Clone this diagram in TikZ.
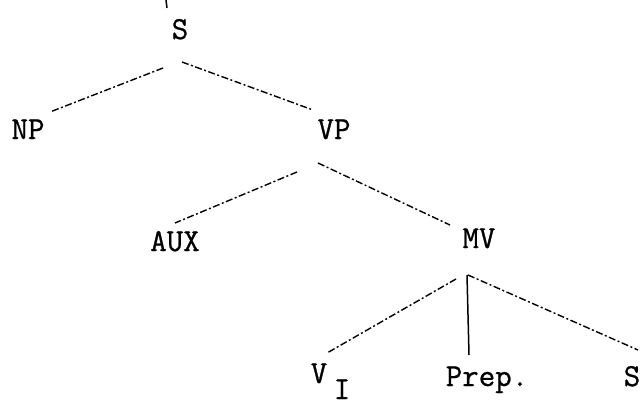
\documentclass[tikz,border=0pt]{standalone}
\usepackage{fontspec}
\newfontfamily\twfont{Latin Modern Mono}[FakeBold=0.8]
\begin{document}
\begin{tikzpicture}[x=1pt,y=-1pt,
  lbl/.style={inner sep=0pt,anchor=base,font=\twfont\fontsize{32}{32}\selectfont},
  branch/.style={line width=1.4pt,dash pattern=on 7pt off 2.5pt on 2pt off 2.5pt},
  solidbranch/.style={line width=1.5pt}]
\useasboundingbox (0,0) rectangle (644,409);
% labels
\node[lbl] (S)    at (180,39)  {S};
\node[lbl] (NP)   at (28,139)  {NP};
\node[lbl] (VP)   at (334,139) {VP};
\node[lbl] (AUX)  at (175,251) {AUX};
\node[lbl] (MV)   at (479,248) {MV};
\node[lbl] (V)    at (319,383) {V};
\node[lbl] (I)    at (342,399) {I};
\node[lbl] (Prep) at (487,386) {Prep.};
\node[lbl] (S2)   at (632,386) {S};
% connector end points
\coordinate (top)   at (166,0);
\coordinate (Stop)  at (167,8);
\coordinate (SL)    at (163,68);
\coordinate (NPt)   at (50,112);
\coordinate (SR)    at (182,62);
\coordinate (VPt)   at (313,110);
\coordinate (VPL)   at (297,172);
\coordinate (AUXt)  at (175,223);
\coordinate (VPR)   at (318,163);
\coordinate (MVt)   at (450,225);
\coordinate (MVL)   at (456,279);
\coordinate (VIt)   at (327,353);
\coordinate (MVM)   at (467,275);
\coordinate (Prept) at (469,355);
\coordinate (MVR)   at (468,275);
\coordinate (S2t)   at (638,350);
% connectors
\draw[solidbranch] (top) -- (Stop);
\draw[branch] (SL) -- (NPt);
\draw[branch] (SR) -- (VPt);
\draw[branch] (VPL) -- (AUXt);
\draw[branch] (VPR) -- (MVt);
\draw[branch] (MVL) -- (VIt);
\draw[solidbranch] (MVM) -- (Prept);
\draw[branch] (MVR) -- (S2t);
\end{tikzpicture}
\end{document}
